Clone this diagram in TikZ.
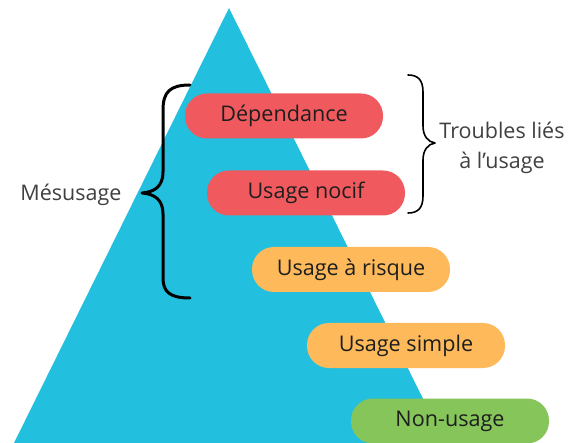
\documentclass[tikz,border=0pt]{standalone}
\usepackage{fontspec}
\setmainfont{Open Sans}
\begin{document}
\begin{tikzpicture}[x=1pt,y=-1pt,
  pill/.style={rounded corners=22pt, minimum width=198pt, minimum height=45pt,
    inner sep=0pt, font=\fontsize{21.6}{24}\selectfont, text=txt},
  lbl/.style={font=\fontsize{21.5}{30}\selectfont, text=txt!85, align=center},
  brace/.style={draw=black, line cap=round, line join=round}]
\definecolor{pyr}{HTML}{22BFDF}
\definecolor{redp}{HTML}{F05A5E}
\definecolor{orangep}{HTML}{FDB95A}
\definecolor{greenp}{HTML}{86C55A}
\definecolor{txt}{HTML}{1E1E1E}
\useasboundingbox (0,0) rectangle (570,443);
% pyramid
\fill[pyr] (229,8) -- (445,443) -- (14,443) -- cycle;
% levels
\node[pill, fill=redp] (dep) at (284,116) {Dépendance};
\node[pill, fill=redp] (noc) at (306,193) {Usage nocif};
\node[pill, fill=orangep] (risk) at (351,269.5) {Usage à risque};
\node[pill, fill=orangep] (simp) at (406,345.5) {Usage simple};
\node[pill, fill=greenp] (non) at (450,421) {Non-usage};
% left brace
\draw[brace, line width=3pt] (190,85) .. controls (170,85) and (163,92) .. (163,110)
  -- (163,172) .. controls (163,186) and (155,192) .. (142,193)
  .. controls (155,194) and (163,200) .. (163,214)
  -- (163,278) .. controls (163,292) and (170,298) .. (190,298);
\node[lbl, anchor=east] (mes) at (125,195) {Mésusage};
% right brace
\draw[brace, line width=1.6pt] (408,75) .. controls (418,75) and (423,80) .. (423,92)
  -- (423,126) .. controls (423,136) and (428,142) .. (435,143)
  .. controls (428,144) and (423,150) .. (423,160)
  -- (423,196) .. controls (423,208) and (418,213) .. (408,213);
\node[lbl] (trb) at (502,148) {Troubles liés\\à l’usage};
\end{tikzpicture}
\end{document}
